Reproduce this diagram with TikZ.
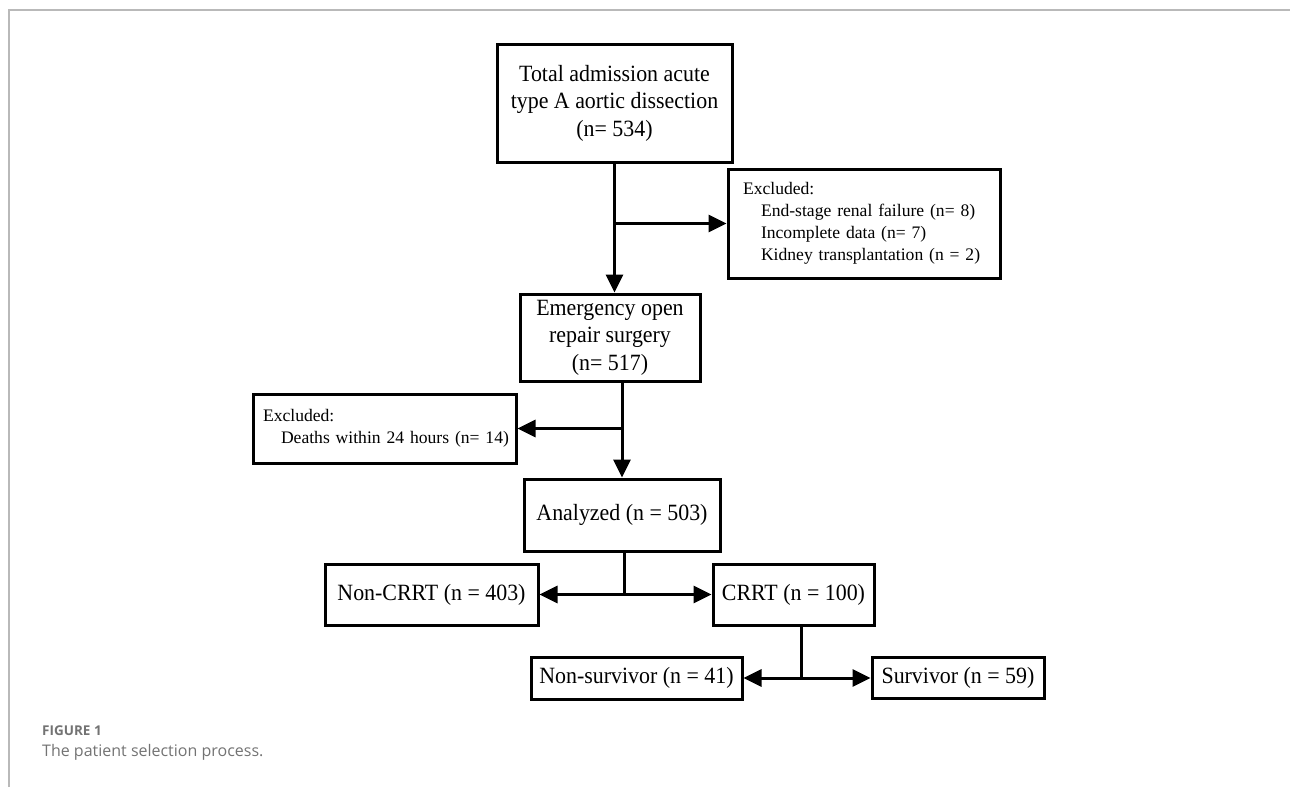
\documentclass[tikz,border=0pt]{standalone}
\usepackage{fontspec}
\setmainfont{Liberation Serif}
\newfontfamily\boxfont[FakeStretch=0.94]{Liberation Serif}
\newfontfamily\capfont{Open Sans}
\usepackage{tikz}
\usetikzlibrary{arrows.meta,positioning,calc}
\usepackage{xcolor}
\definecolor{framegray}{RGB}{185,185,185}
\definecolor{capgray}{RGB}{115,115,115}

\begin{document}
\begin{tikzpicture}[
    x=1pt, y=-1pt,
    box/.style={draw, line width=3pt, align=center, inner sep=0pt,
                font=\boxfont\fontsize{23.3}{27.5}\selectfont},
    exbox/.style={draw, line width=3pt, align=left, inner ysep=0pt,
                  font=\fontsize{17.6}{22}\selectfont},
    flow/.style={line width=3pt, -{Triangle[length=18pt,width=17pt]}},
    both/.style={line width=3pt, {Triangle[length=18pt,width=17pt]}-{Triangle[length=18pt,width=17pt]}}
  ]
    \useasboundingbox (0,0) rectangle (1290,787);
    \draw[framegray, line width=2pt] (9,787) -- (9,10) -- (1290,10);

    \node[box, minimum width=235pt, minimum height=118pt] (total) at (614.5,103)
      {Total admission acute\\type A aortic dissection\\(n= 534)};
    \node[exbox, text width=242pt, inner xsep=15pt, minimum height=109pt] (excl1) at (864,223.5)
      {\mbox{Excluded:}\\\mbox{\hspace*{18pt}End-stage renal failure (n= 8)}\\\mbox{\hspace*{18pt}Incomplete data (n= 7)}\\\mbox{\hspace*{18pt}Kidney transplantation (n = 2)}};
    \node[box, minimum width=180pt, minimum height=87pt] (surgery) at (610,337.5)
      {Emergency open\\repair surgery\\(n= 517)};
    \node[exbox, text width=243pt, inner xsep=10pt, minimum height=69pt] (excl2) at (384.5,428.5)
      {\mbox{Excluded:}\\\mbox{\hspace*{18pt}Deaths within 24 hours (n= 14)}};
    \node[box, minimum width=196pt, minimum height=72pt] (anlz) at (622,515)
      {Analyzed (n = 503)};
    \node[box, minimum width=213pt, minimum height=61pt] (noncrrt) at (431.5,594.5)
      {Non-CRRT (n = 403)};
    \node[box, minimum width=161pt, minimum height=61pt] (crrt) at (793.5,594.5)
      {CRRT (n = 100)};
    \node[box, minimum width=211pt, minimum height=42pt] (nonsurv) at (636.5,678)
      {Non-survivor (n = 41)};
    \node[box, minimum width=172pt, minimum height=41pt] (surv) at (958,678)
      {Survivor (n = 59)};

    \draw[flow] (total.south) -- (total.south |- surgery.north);
    \draw[flow] (total.south |- excl1.west) -- (excl1.west);
    \draw[flow] (anlz.north |- surgery.south) -- (anlz.north);
    \draw[flow] (anlz.north |- excl2.east) -- (excl2.east);
    \draw[line width=3pt] ([xshift=2pt]anlz.south) -- ([xshift=2pt]anlz.south |- crrt.west);
    \draw[both] (noncrrt.east) -- (crrt.west);
    \draw[line width=3pt] ([xshift=7.5pt]crrt.south) -- ([xshift=7.5pt]crrt.south |- surv.west);
    \draw[both] (nonsurv.east) -- (surv.west);

    \node[anchor=base west, inner sep=0pt, capgray, font=\capfont\bfseries\fontsize{13.5}{16}\selectfont] (fig) at (42,735) {FIGURE 1};
    \node[anchor=base west, inner sep=0pt, capgray, font=\capfont\fontsize{16}{19}\selectfont] (cap) at (42,756) {The patient selection process.};
  \end{tikzpicture}
\end{document}
